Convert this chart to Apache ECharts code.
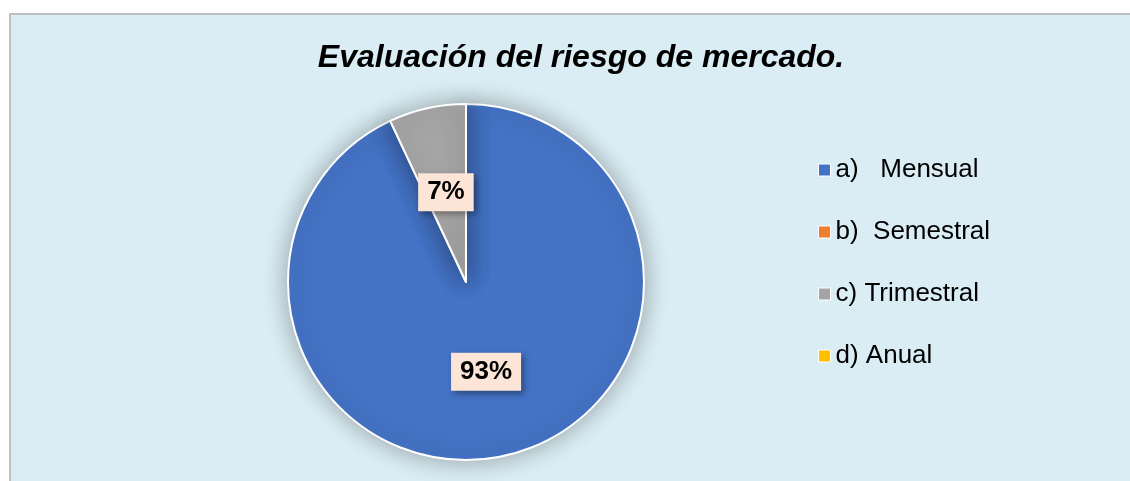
<!DOCTYPE html>
<html>
<head>
<meta charset="utf-8">
<script src="https://cdn.jsdelivr.net/npm/echarts@6/dist/echarts.min.js"></script>
<style>
  html, body { margin: 0; padding: 0; background: #fff; }
  #chart { width: 1130px; height: 481px; }
</style>
</head>
<body>
<div id="chart"></div>
<script>
// Data
const categories = ['a)   Mensual', 'b)  Semestral', 'c) Trimestral', 'd) Anual'];
const values = [93, 0, 7, 0];
const colors = ['#4472c4', '#ed7d31', '#a5a5a5', '#ffc000'];

const chart = echarts.init(document.getElementById('chart'));

const pieData = categories.map((name, i) => ({
    name: name,
    value: values[i],
    itemStyle: { color: colors[i] },
    label: { show: values[i] > 0 }
}));

const option = {
    backgroundColor: '#ffffff',
    textStyle: { fontFamily: 'Liberation Sans, Arial, sans-serif' },
    graphic: [{
        type: 'rect',
        z: -10,
        shape: { x: 10, y: 14, width: 1130, height: 480 },
        style: { fill: '#daedf4', stroke: '#bfbfbf', lineWidth: 2 }
    }],
    title: {
        text: 'Evaluación del riesgo de mercado.',
        left: 576,
        textAlign: 'center',
        top: 37,
        textStyle: {
            fontFamily: 'Liberation Sans, Arial, sans-serif',
            fontSize: 32,
            fontWeight: 'bold',
            fontStyle: 'italic',
            color: '#000'
        }
    },
    legend: {
        orient: 'vertical',
        left: 818,
        top: 156,
        padding: 0,
        icon: 'rect',
        itemWidth: 12,
        itemHeight: 12,
        itemGap: 34,
        itemStyle: { borderColor: '#ffffff', borderWidth: 1 },
        textStyle: {
            fontFamily: 'Liberation Sans, Arial, sans-serif',
            fontSize: 26,
            lineHeight: 28,
            color: '#000'
        },
        data: categories
    },
    series: [{
        type: 'pie',
        center: [466, 282],
        radius: 178,
        startAngle: 90,
        clockwise: true,
        animation: false,
        itemStyle: {
            borderColor: '#ffffff',
            borderWidth: 2,
            shadowBlur: 24,
            shadowColor: 'rgba(0, 0, 0, 0.32)'
        },
        label: {
            position: 'inside',
            formatter: '{d}%',
            fontFamily: 'Liberation Sans, Arial, sans-serif',
            fontSize: 26,
            fontWeight: 'bold',
            color: '#000',
            backgroundColor: '#fce4d6',
            padding: [6, 9],
            shadowBlur: 6,
            shadowOffsetX: 3,
            shadowOffsetY: 3,
            shadowColor: 'rgba(0, 0, 0, 0.35)'
        },
        labelLine: { show: false },
        emphasis: { disabled: true },
        data: pieData
    }]
};

chart.setOption(option);
</script>
</body>
</html>
